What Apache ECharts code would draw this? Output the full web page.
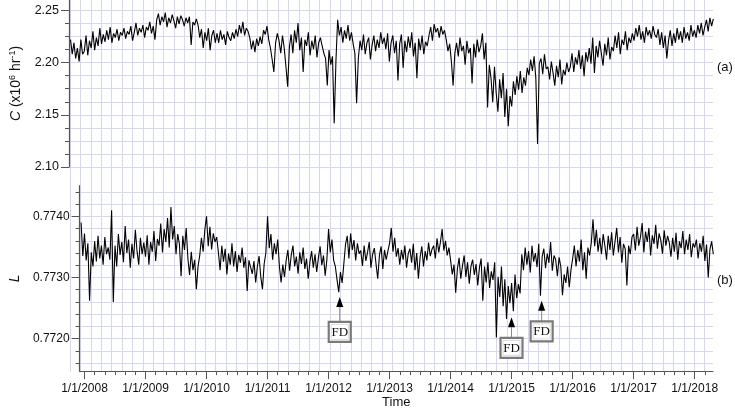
<!DOCTYPE html>
<html><head><meta charset="utf-8">
<script src="https://cdn.jsdelivr.net/npm/echarts@6/dist/echarts.min.js"></script>
<style>html,body{margin:0;padding:0;background:#fff}#c{width:735px;height:410px}</style>
</head><body><div id="c"></div>
<script>
// sampling grid: every 1/36 year starting Dec 2007
const startYear = 2007 + 34 / 36;
const stepYear = 1 / 36;

// C (x10^6 hr^-1)
const cValues = [
2.222,2.208,
2.219,2.204,2.214,2.201,2.222,2.208,2.211,2.226,2.207,2.221,2.214,2.230,2.212,2.224,2.216,2.233,2.218,2.227,2.220,2.231,2.222,2.234,2.219,2.228,2.224,2.232,2.221,2.229,2.226,2.233,2.223,2.230,2.227,2.235,2.221,2.229,
2.238,2.226,2.233,2.229,2.236,2.224,2.234,2.231,2.239,2.228,2.235,2.222,2.241,2.247,2.236,2.244,2.239,2.248,2.234,2.243,2.238,2.246,2.240,2.233,2.244,2.237,2.245,2.241,2.235,2.243,2.238,2.244,2.217,2.239,2.236,2.242,
2.236,2.224,2.232,2.214,2.229,2.221,2.233,2.212,2.226,2.231,2.219,2.228,2.219,2.231,2.222,2.227,2.217,2.230,2.224,2.221,2.229,2.223,2.232,2.225,2.236,2.228,2.239,2.226,2.233,2.230,2.224,2.213,2.221,2.210,2.223,2.216,
2.225,2.218,2.231,2.227,2.235,2.222,2.214,2.203,2.191,2.219,2.228,2.221,2.209,2.226,2.214,2.196,2.177,2.215,2.227,2.209,2.231,2.219,2.238,2.212,2.224,2.191,2.222,2.216,2.229,2.207,2.221,2.213,2.226,2.205,2.219,2.224,
2.216,2.209,2.204,2.178,2.212,2.198,2.206,2.142,2.201,2.241,2.226,2.234,2.219,2.231,2.223,2.236,2.221,2.229,2.218,2.209,2.161,2.204,2.221,2.212,2.227,2.208,2.219,2.224,2.203,2.217,2.226,2.211,2.222,2.214,2.229,2.218,
2.224,2.213,2.228,2.201,2.219,2.226,2.209,2.221,2.183,2.218,2.227,2.195,2.221,2.210,2.225,2.214,2.229,2.206,2.219,2.185,2.223,2.212,2.226,2.208,2.220,2.216,2.226,2.234,2.221,2.237,2.229,2.233,2.224,2.235,2.227,2.231,
2.222,2.211,2.218,2.201,2.178,2.209,2.219,2.206,2.224,2.211,2.216,2.198,2.221,2.209,2.214,2.180,2.218,2.205,2.222,2.210,2.216,2.228,2.203,2.219,2.157,2.198,2.185,2.162,2.196,2.171,2.153,2.184,2.166,2.190,2.148,2.175,
2.139,2.168,2.158,2.182,2.169,2.187,2.174,2.192,2.171,2.186,2.178,2.195,2.188,2.203,2.192,2.206,2.185,2.122,2.199,2.204,2.189,2.208,2.194,2.196,2.184,2.201,2.190,2.178,2.197,2.186,2.203,2.179,2.193,2.188,2.200,2.191,
2.196,2.209,2.191,2.205,2.198,2.212,2.194,2.207,2.187,2.210,2.201,2.214,2.199,2.224,2.190,2.216,2.205,2.221,2.209,2.197,2.218,2.207,2.224,2.203,2.215,2.211,2.226,2.214,2.229,2.208,2.222,2.217,2.230,2.212,2.224,2.219,
2.228,2.221,2.233,2.225,2.236,2.222,2.230,2.219,2.234,2.226,2.231,2.223,2.235,2.227,2.224,2.232,2.217,2.229,2.214,2.226,2.204,2.221,2.231,2.216,2.228,2.219,2.233,2.222,2.230,2.219,2.234,2.223,2.229,2.221,2.236,2.225,
2.231,2.224,2.236,2.228,2.238,2.226,2.234,2.241,2.230,2.243,2.235,2.242
];

// L
const lValues = [
0.77390,0.77335,
0.77372,0.77328,0.77356,0.77262,0.77341,0.77318,0.77359,0.77326,0.77368,0.77331,0.77352,0.77321,0.77366,0.77338,0.77349,0.77329,0.77410,0.77260,0.77352,0.77318,0.77371,0.77337,0.77358,0.77325,0.77384,0.77340,0.77362,0.77316,0.77355,0.77331,0.77378,0.77343,0.77321,0.77365,0.77338,0.77357,
0.77334,0.77369,0.77321,0.77358,0.77342,0.77376,0.77327,0.77363,0.77352,0.77388,0.77341,0.77379,0.77358,0.77397,0.77349,0.77415,0.77362,0.77384,0.77338,0.77371,0.77355,0.77302,0.77368,0.77345,0.77381,0.77331,0.77304,0.77342,0.77312,0.77329,0.77281,0.77318,0.77336,0.77365,0.77342,0.77378,
0.77400,0.77351,0.77383,0.77346,0.77372,0.77358,0.77366,0.77341,0.77312,0.77352,0.77326,0.77347,0.77305,0.77339,0.77321,0.77356,0.77318,0.77343,0.77309,0.77337,0.77324,0.77349,0.77316,0.77333,0.77278,0.77328,0.77331,0.77306,0.77327,0.77292,0.77318,0.77335,0.77301,0.77281,0.77322,0.77340,
0.77400,0.77348,0.77371,0.77329,0.77356,0.77338,0.77362,0.77318,0.77292,0.77321,0.77301,0.77328,0.77345,0.77311,0.77337,0.77352,0.77318,0.77334,0.77306,0.77341,0.77322,0.77349,0.77314,0.77331,0.77298,0.77326,0.77343,0.77316,0.77338,0.77309,0.77332,0.77351,0.77320,0.77336,0.77303,0.77329,
0.77379,0.77341,0.77362,0.77328,0.77318,0.77296,0.77276,0.77309,0.77291,0.77322,0.77354,0.77368,0.77331,0.77372,0.77345,0.77361,0.77328,0.77356,0.77339,0.77344,0.77319,0.77352,0.77327,0.77341,0.77358,0.77316,0.77338,0.77348,0.77322,0.77298,0.77336,0.77351,0.77314,0.77345,0.77329,0.77343,
0.77356,0.77381,0.77342,0.77365,0.77334,0.77348,0.77321,0.77345,0.77329,0.77352,0.77316,0.77339,0.77347,0.77324,0.77355,0.77312,0.77340,0.77298,0.77333,0.77351,0.77318,0.77343,0.77328,0.77357,0.77335,0.77346,0.77352,0.77331,0.77364,0.77341,0.77358,0.77379,0.77344,0.77360,0.77336,0.77349,
0.77328,0.77305,0.77321,0.77275,0.77314,0.77332,0.77298,0.77319,0.77336,0.77301,0.77325,0.77290,0.77318,0.77329,0.77304,0.77322,0.77287,0.77316,0.77331,0.77262,0.77318,0.77292,0.77325,0.77283,0.77310,0.77296,0.77325,0.77202,0.77301,0.77268,0.77318,0.77253,0.77297,0.77232,0.77286,0.77258,
0.77291,0.77245,0.77305,0.77266,0.77289,0.77274,0.77338,0.77312,0.77349,0.77321,0.77343,0.77308,0.77352,0.77326,0.77340,0.77317,0.77355,0.77270,0.77334,0.77347,0.77315,0.77339,0.77324,0.77358,0.77311,0.77336,0.77329,0.77302,0.77333,0.77318,0.77271,0.77305,0.77291,0.77318,0.77284,0.77312,
0.77331,0.77352,0.77318,0.77345,0.77326,0.77362,0.77312,0.77341,0.77298,0.77349,0.77336,0.77357,0.77395,0.77351,0.77378,0.77342,0.77365,0.77338,0.77371,0.77352,0.77329,0.77368,0.77345,0.77374,0.77336,0.77359,0.77381,0.77341,0.77366,0.77324,0.77355,0.77347,0.77287,0.77352,0.77338,0.77366,
0.77371,0.77344,0.77383,0.77352,0.77366,0.77389,0.77341,0.77375,0.77358,0.77381,0.77336,0.77369,0.77355,0.77386,0.77347,0.77372,0.77361,0.77339,0.77377,0.77352,0.77368,0.77357,0.77334,0.77365,0.77342,0.77373,0.77329,0.77359,0.77348,0.77376,0.77338,0.77362,0.77345,0.77371,0.77333,0.77356,
0.77349,0.77362,0.77331,0.77356,0.77342,0.77368,0.77327,0.77354,0.77300,0.77346,0.77359,0.77338
];

const yearTicks = [2008, 2009, 2010, 2011, 2012, 2013, 2014, 2015, 2016, 2017, 2018];
const cMajorTicks = [2.10, 2.15, 2.20, 2.25];
const lMajorTicks = [0.7720, 0.7730, 0.7740];
// Forbush decrease markers: date, arrow tip value, box centre value (panel b)
const fdEvents = [
  { x: 2012.183, tip: 0.77268, box: 0.77211 },
  { x: 2014.998, tip: 0.77235, box: 0.77185 },
  { x: 2015.492, tip: 0.77262, box: 0.77212 }
];

const xMin = 2007.92, xMax = 2018.30;
const cMin = 2.10, cMax = 2.26;
const lMin = 0.77147, lMax = 0.7745;

const minorX = [];
yearTicks.forEach(y => { for (let m = 0; m < 12; m += 2) { const v = y + m / 12; if (v <= xMax) minorX.push(v); } });
const cMinor = []; for (let k = 0; k <= 12; k++) cMinor.push(+(cMin + k * 0.0125).toFixed(4));
const lMinor = []; for (let k = 0; k <= 14; k++) lMinor.push(+(0.7716 + k * 0.0002).toFixed(4));

const cData = cValues.map((v, i) => [startYear + i * stepYear, v]);
const lData = lValues.map((v, i) => [startYear + i * stepYear, v]);

const gridColor = '#d6d6f7';
const axisColor = '#555';
const FONT = '"Liberation Sans", Arial, Helvetica, sans-serif';

const chart = echarts.init(document.getElementById('c'), null, { renderer: 'canvas' });
chart.setOption({
  animation: false,
  backgroundColor: '#fff',
  grid: [
    { left: 65, right: 22, top: 0, height: 372 },
    { left: 65, right: 22, top: 0, height: 167 },
    { left: 65, right: 22, top: 185.7, height: 186.3 }
  ],
  xAxis: [
    { gridIndex: 0, type: 'value', min: xMin, max: xMax,
      axisLine: { show: false }, axisLabel: { show: false },
      axisTick: { show: false, customValues: minorX },
      splitLine: { show: true, lineStyle: { color: gridColor, width: 1 } } },
    { gridIndex: 1, type: 'value', min: xMin, max: xMax, show: false },
    { gridIndex: 2, type: 'value', min: xMin, max: xMax, position: 'bottom',
      axisLine: { show: true, onZero: false, lineStyle: { color: axisColor, width: 1.2 } },
      axisTick: { show: true, length: 4, customValues: minorX, lineStyle: { color: axisColor } },
      axisLabel: { show: false }, splitLine: { show: false } },
    { gridIndex: 2, type: 'value', min: xMin, max: xMax, position: 'bottom',
      axisLine: { show: false, onZero: false },
      axisTick: { show: true, length: 8, customValues: yearTicks, lineStyle: { color: axisColor } },
      axisLabel: { show: true, customValues: yearTicks, margin: 12, color: '#111', fontSize: 12, fontFamily: FONT,
        formatter: v => '1/1/' + Math.round(v) },
      splitLine: { show: false },
      name: 'Time', nameLocation: 'middle', nameGap: 24,
      nameTextStyle: { color: '#111', fontSize: 13, fontFamily: FONT } }
  ],
  yAxis: [
    { gridIndex: 0, type: 'value', min: 0, max: 1, show: false },
    { gridIndex: 1, type: 'value', min: cMin, max: cMax, position: 'left',
      axisLine: { show: true, lineStyle: { color: axisColor, width: 1.2 } },
      axisTick: { show: true, length: 4, customValues: cMinor, lineStyle: { color: axisColor } },
      axisLabel: { show: false },
      splitLine: { show: true, lineStyle: { color: gridColor, width: 1 } } },
    { gridIndex: 1, type: 'value', min: cMin, max: cMax, position: 'left',
      axisLine: { show: false },
      axisTick: { show: true, length: 8, customValues: cMajorTicks, lineStyle: { color: axisColor } },
      axisLabel: { show: true, customValues: cMajorTicks, margin: 10, color: '#111', fontSize: 12.5, fontFamily: FONT,
        formatter: v => v.toFixed(2) },
      splitLine: { show: false },
      name: '{i|C} (x10{s|6} hr{s|-1})', nameLocation: 'middle', nameRotate: 90, nameGap: 44,
      nameTextStyle: { color: '#111', fontSize: 14, fontFamily: FONT,
        rich: { i: { fontStyle: 'italic', fontSize: 14, fontFamily: FONT, color: '#111', lineHeight: 17 },
                s: { fontSize: 9, fontFamily: FONT, color: '#111', lineHeight: 9, verticalAlign: 'top' } } } },
    { gridIndex: 2, type: 'value', min: lMin, max: lMax, position: 'left',
      axisLine: { show: true, lineStyle: { color: axisColor, width: 1.2 } },
      axisTick: { show: true, length: 4, customValues: lMinor, lineStyle: { color: axisColor } },
      axisLabel: { show: false },
      splitLine: { show: true, lineStyle: { color: gridColor, width: 1 } } },
    { gridIndex: 2, type: 'value', min: lMin, max: lMax, position: 'left',
      axisLine: { show: false },
      axisTick: { show: true, length: 8, customValues: lMajorTicks, lineStyle: { color: axisColor } },
      axisLabel: { show: true, customValues: lMajorTicks, margin: 10, color: '#111', fontSize: 12, fontFamily: FONT,
        formatter: v => v.toFixed(4) },
      splitLine: { show: false },
      name: 'L', nameLocation: 'middle', nameRotate: 90, nameGap: 47,
      nameTextStyle: { color: '#111', fontSize: 14, fontStyle: 'italic', fontFamily: FONT } }
  ],
  series: [
    { type: 'line', xAxisIndex: 1, yAxisIndex: 1, data: cData, showSymbol: false,
      lineStyle: { color: '#000', width: 1.1 }, silent: true },
    { type: 'line', xAxisIndex: 2, yAxisIndex: 3, data: lData, showSymbol: false,
      lineStyle: { color: '#000', width: 1.1 }, silent: true }
  ]
});

const graphics = [
  { type: 'text', x: 717, y: 67, style: { text: '(a)', font: '13px ' + FONT, fill: '#111', align: 'left', verticalAlign: 'middle' } },
  { type: 'text', x: 717, y: 280, style: { text: '(b)', font: '13px ' + FONT, fill: '#111', align: 'left', verticalAlign: 'middle' } }
];
fdEvents.forEach(ev => {
  const tip = chart.convertToPixel({ seriesIndex: 1 }, [ev.x, ev.tip]);
  const box = chart.convertToPixel({ seriesIndex: 1 }, [ev.x, ev.box]);
  const bw = 22, bh = 20, headH = 10, headW = 7;
  const boxTop = box[1] - bh / 2;
  graphics.push({ type: 'line', shape: { x1: tip[0], y1: tip[1] + headH, x2: tip[0], y2: boxTop }, style: { stroke: '#888', lineWidth: 1 } });
  graphics.push({ type: 'polygon', shape: { points: [[tip[0], tip[1]], [tip[0] - headW / 2, tip[1] + headH], [tip[0] + headW / 2, tip[1] + headH]] }, style: { fill: '#000' } });
  graphics.push({ type: 'rect', shape: { x: box[0] - bw / 2, y: boxTop, width: bw, height: bh }, style: { fill: '#fff', stroke: '#7a7a7a', lineWidth: 2.2 } });
  graphics.push({ type: 'rect', shape: { x: box[0] - bw / 2 + 2.5, y: boxTop + 2.5, width: bw - 5, height: bh - 5 }, style: { fill: 'none', stroke: '#d0d0d0', lineWidth: 0.8 } });
  graphics.push({ type: 'text', x: box[0], y: box[1] + 0.5, style: { text: 'FD', font: '13px "Liberation Serif", "Times New Roman", serif', fill: '#111', align: 'center', verticalAlign: 'middle' } });
});
chart.setOption({ graphic: graphics });
</script>
</body></html>
